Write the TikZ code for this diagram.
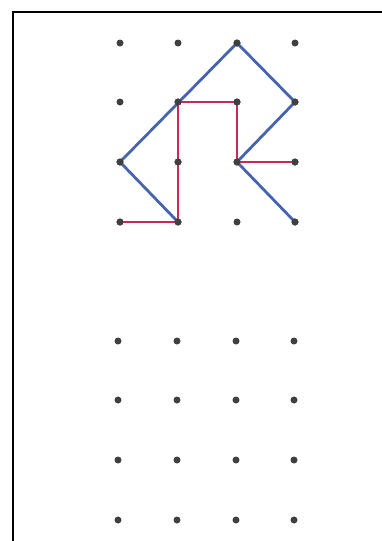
\documentclass[tikz,border=0pt]{standalone}
\begin{document}
\begin{tikzpicture}[x=1pt,y=-1pt,
  gdot/.style={circle,fill=black!75,inner sep=0pt,minimum size=7pt},
  blueline/.style={draw={rgb,255:red,70;green,100;blue,175},line width=2.8pt,line cap=round,line join=round},
  redline/.style={draw={rgb,255:red,205;green,40;blue,85},line width=2.9pt,line cap=round,line join=round}]
\useasboundingbox (0,0) rectangle (382,541);
\fill[white] (0,0) rectangle (382,541);
\draw[line width=2.6pt] (13,545) -- (13,12) -- (386,12);
% top grid
\foreach \c/\x in {1/120,2/178,3/237,4/295}{
  \foreach \r/\y in {1/43,2/102,3/162,4/222}{
    \node[gdot] (t\r\c) at (\x,\y) {};
  }
}
% bottom grid
\foreach \c/\x in {1/118,2/177,3/236,4/294}{
  \foreach \r/\y in {1/341,2/400,3/460,4/520}{
    \node[gdot] (b\r\c) at (\x,\y) {};
  }
}
% blue lines
\draw[blueline] (t13.center) -- (t31.center) -- (t42.center);
\draw[blueline] (t13.center) -- (t24.center) -- (t33.center) -- (t44.center);
% red lines
\draw[redline] (t41.center) -- (t42.center) -- (t22.center) -- (t23.center) -- (t33.center) -- (t34.center);
% redraw dots on top
\foreach \n in {t13,t22,t23,t24,t31,t32,t33,t34,t41,t42,t44}{
  \fill[black!75] (\n) circle (3.5pt);
}
\end{tikzpicture}
\end{document}
